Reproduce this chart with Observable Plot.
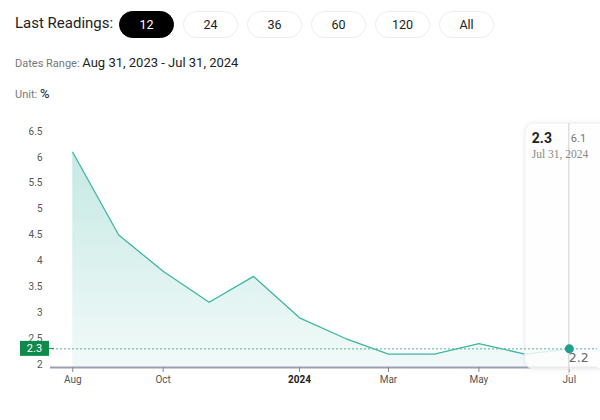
<!DOCTYPE html>
<html>
<head>
<meta charset="utf-8">
<script src="https://cdn.jsdelivr.net/npm/d3@7"></script>
<script src="https://cdn.jsdelivr.net/npm/@observablehq/plot@0.6"></script>
<style>
  html, body { margin: 0; padding: 0; background: #fff; width: 600px; height: 420px; overflow: hidden; font-family: Roboto, "Open Sans", sans-serif; }
  #wrap { position: relative; width: 600px; height: 420px; }
  .lbl { position: absolute; left: 15px; top: 14px; font-size: 15px; color: #222; }
  .btn { position: absolute; top: 11px; height: 25px; width: 53px; border: 1px solid #ececec; border-radius: 14px; font-size: 12.5px; color: #222; text-align: center; line-height: 25px; background: #fff; }
  .btn.on { background: #000; color: #fff; border-color: #000; }
  .meta { position: absolute; left: 15px; font-size: 11px; color: #777; }
  .meta b { font-weight: 400; color: #222; font-size: 13px; }
  #chart { position: absolute; left: 0; top: 112px; }
</style>
</head>
<body>
<div id="wrap">
  <div class="lbl">Last Readings:</div>
  <div id="btns"></div>
  <div class="meta" style="top:55px">Dates Range: <b id="range"></b></div>
  <div class="meta" style="top:86px">Unit: <b>%</b></div>
  <div id="chart"></div>
</div>
<script>
const readingOptions = ["12", "24", "36", "60", "120", "All"];
const months = ["2023-08-01","2023-09-01","2023-10-01","2023-11-01","2023-12-01","2024-01-01","2024-02-01","2024-03-01","2024-04-01","2024-05-01","2024-06-01","2024-07-01"];
const values = [6.1, 4.5, 3.8, 3.2, 3.7, 2.9, 2.5, 2.2, 2.2, 2.4, 2.2, 2.3];
const rangeText = "Aug 31, 2023 - Jul 31, 2024";
const lastDateText = "Jul 31, 2024";
const yTicks = [2, 2.5, 3, 3.5, 4, 4.5, 5, 5.5, 6, 6.5];
const xTickDates = ["2023-08-01","2023-10-01","2024-01-01","2024-03-01","2024-05-01","2024-07-01"];
const xTickLabels = ["Aug","Oct","2024","Mar","May","Jul"];

// header
const btns = document.getElementById("btns");
readingOptions.forEach((t, i) => {
  const d = document.createElement("div");
  d.className = "btn" + (i === 0 ? " on" : "");
  d.style.left = (119 + i * 64) + "px";
  d.textContent = t;
  btns.appendChild(d);
});
document.getElementById("range").textContent = rangeText;

const data = months.map((m, i) => ({date: new Date(m), value: values[i]}));
const last = data[data.length - 1];
const yMin = 1.94;
const maxV = d3.max(values), minV = d3.min(values);
const tickDates = xTickDates.map(d => new Date(d));

const NS = "http://www.w3.org/2000/svg";
function el(tag, attrs, parent) {
  const e = document.createElementNS(NS, tag);
  for (const k in attrs) e.setAttribute(k, attrs[k]);
  if (parent) parent.appendChild(e);
  return e;
}

function gradientDefs() {
  const defs = el("defs", {});
  const g = el("linearGradient", {id: "areaGrad", x1: 0, y1: 0, x2: 0, y2: 1}, defs);
  el("stop", {offset: "0%", "stop-color": "#3fb5a4", "stop-opacity": 0.3}, g);
  el("stop", {offset: "100%", "stop-color": "#3fb5a4", "stop-opacity": 0.07}, g);
  const f = el("filter", {id: "tipShadow", x: "-20%", y: "-10%", width: "140%", height: "120%"}, defs);
  el("feDropShadow", {dx: 0, dy: 0, stdDeviation: 2, "flood-color": "#000", "flood-opacity": 0.08}, f);
  return defs;
}

function tooltipBox(index, scales) {
  const g = el("g", {});
  const xp = scales.x(last.date);
  el("rect", {x: xp - 44, y: 11, width: 120, height: 246, rx: 9, fill: "rgba(255,255,255,0.8)", stroke: "#ededed", filter: "url(#tipShadow)"}, g);
  el("line", {x1: xp, x2: xp, y1: 11, y2: 263, stroke: "#cfcfcf"}, g);
  return g;
}

function tooltipText(index, scales) {
  const g = el("g", {"text-anchor": "start"});
  const xp = scales.x(last.date);
  const yp = scales.y(last.value);
  const t1 = el("text", {x: xp - 37, y: 31, "text-anchor": "start", "font-size": 14, "font-weight": 700, fill: "#222", "font-family": "Roboto, sans-serif"}, g);
  t1.textContent = d3.format(".1f")(last.value);
  const t2 = el("text", {x: xp + 2, y: 30, "text-anchor": "start", "font-size": 11, fill: "#777", "font-family": "Roboto, sans-serif"}, g);
  t2.textContent = d3.format(".1f")(maxV);
  const t3 = el("text", {x: xp - 37, y: 46, "text-anchor": "start", "font-size": 11.5, fill: "#888", "font-family": "'Liberation Serif', 'DejaVu Serif', serif"}, g);
  t3.textContent = lastDateText;
  const t4 = el("text", {x: xp, y: yp + 14, "text-anchor": "start", "font-size": 12.5, fill: "#666", "font-family": "'DejaVu Sans', sans-serif"}, g);
  t4.textContent = d3.format(".1f")(minV);
  return g;
}

function valueBadge(index, scales) {
  const g = el("g", {});
  const yp = scales.y(last.value);
  el("rect", {x: 20, y: yp - 7.5, width: 29, height: 15, fill: "#0f8a4d"}, g);
  el("line", {x1: 49, x2: 54, y1: yp, y2: yp, stroke: "#0f8a4d"}, g);
  const t = el("text", {x: 34.5, y: yp + 4, "text-anchor": "middle", "font-size": 11, fill: "#fff", "font-family": "Roboto, sans-serif"}, g);
  t.textContent = d3.format(".1f")(last.value);
  return g;
}

const chart = Plot.plot({
  width: 600,
  height: 290,
  marginTop: 19,
  marginBottom: 35,
  marginLeft: 50,
  marginRight: 3,
  style: {fontFamily: "Roboto, sans-serif", fontSize: "10px", color: "#555", background: "transparent"},
  x: {type: "utc", domain: [new Date("2023-07-17"), new Date("2024-07-20")]},
  y: {domain: [yMin, 6.5]},
  marks: [
    gradientDefs,
    Plot.areaY(data, {x: "date", y1: yMin, y2: "value", fill: "url(#areaGrad)"}),
    Plot.lineY(data, {x: "date", y: "value", stroke: "#3fb5a4", strokeWidth: 1.3}),
    Plot.axisY({ticks: yTicks, tickSize: 0, tickPadding: 8, tickFormat: d => String(d), fill: "#555", label: null}),
    Plot.ruleY([yMin], {stroke: "#9e9eb2", strokeWidth: 2}),
    Plot.axisX({ticks: tickDates, tickSize: 5, tickPadding: 3, stroke: "#888", fill: "#555", label: null,
      tickFormat: d => xTickLabels[tickDates.findIndex(t => +t === +d)]}),
    tooltipBox,
    Plot.ruleY([last.value], {stroke: "#4cb890", strokeWidth: 1, strokeDasharray: "2,2", insetLeft: 2, insetRight: 0}),
    Plot.dot([last], {x: "date", y: "value", r: 4.5, fill: "#1f9f8e"}),
    valueBadge,
    tooltipText
  ]
});
d3.select(chart).selectAll("text").filter(function() { return this.textContent === "2024"; })
  .attr("font-weight", 700).attr("fill", "#222");
document.getElementById("chart").appendChild(chart);
</script>
</body>
</html>
